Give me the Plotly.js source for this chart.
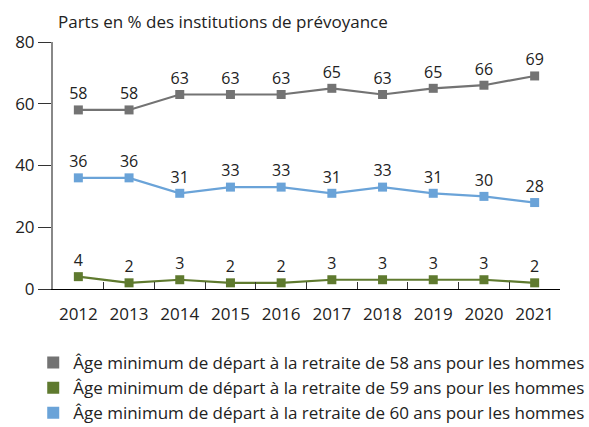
<!DOCTYPE html>
<html>
<head>
<meta charset="utf-8">
<script src="https://cdn.plot.ly/plotly-3.0.1.min.js"></script>
<style>
  html, body { margin: 0; padding: 0; background: #fff; }
  #chart { width: 589px; height: 427px; }
</style>
</head>
<body>
<div id="chart"></div>
<script>
// DATA
const YEARS = ['2012', '2013', '2014', '2015', '2016', '2017', '2018', '2019', '2020', '2021']
const AGE_58 = [58, 58, 63, 63, 63, 65, 63, 65, 66, 69]
const AGE_59 = [4, 2, 3, 2, 2, 3, 3, 3, 3, 2]
const AGE_60 = [36, 36, 31, 33, 33, 31, 33, 31, 30, 28]
const NAMES = [
    'Âge minimum de départ à la retraite de 58 ans pour les hommes',
    'Âge minimum de départ à la retraite de 59 ans pour les hommes',
    'Âge minimum de départ à la retraite de 60 ans pour les hommes'
]
const COLORS = ['#737373', '#5f7a2f', '#6aa3d8']

const FONT = 'Open Sans, Noto Sans, sans-serif'

// the drawn series (no legend entry, the legend only shows squares)
function makeTrace(name, values, color) {
    return {
        type: 'scatter',
        mode: 'lines+markers+text',
        name: name,
        x: YEARS,
        y: values,
        text: values.map(String),
        textposition: 'top center',
        textfont: { family: FONT, size: 16, color: '#222' },
        line: { color: color, width: 2.2 },
        marker: { symbol: 'square', size: 9, color: color },
        cliponaxis: false,
        showlegend: false,
        hoverinfo: 'x+y'
    }
}

// legend-only entries: a plain square
function makeLegend(name, color, i) {
    return {
        type: 'scatter',
        mode: 'markers',
        name: name,
        x: [null],
        y: [null],
        marker: { symbol: 'square', size: 12, color: color },
        legendgroup: 'g' + i,
        showlegend: true
    }
}

let data = [
    makeTrace(NAMES[0], AGE_58, COLORS[0]),
    makeTrace(NAMES[1], AGE_59, COLORS[1]),
    makeTrace(NAMES[2], AGE_60, COLORS[2]),
    makeLegend(NAMES[0], COLORS[0], 0),
    makeLegend(NAMES[1], COLORS[1], 1),
    makeLegend(NAMES[2], COLORS[2], 2)
]

// LAYOUT
let layout = {
    width: 589,
    height: 427,
    margin: { t: 42, r: 29, b: 138, l: 53, autoexpand: false },
    paper_bgcolor: '#fff',
    plot_bgcolor: '#fff',
    font: { family: FONT, size: 17, color: '#222' },
    showlegend: true,
    legend: {
        orientation: 'v',
        x: -0.039, xanchor: 'left',
        yref: 'container',
        y: 0.192, yanchor: 'top',
        font: { family: FONT, size: 17, color: '#222' },
        itemsizing: 'trace',
        tracegroupgap: 4,
        traceorder: 'normal'
    },
    annotations: [{
        text: 'Parts en % des institutions de prévoyance',
        xref: 'paper', yref: 'paper',
        x: 0.005, y: 1.0,
        xanchor: 'left', yanchor: 'bottom',
        yshift: 7,
        showarrow: false,
        font: { family: FONT, size: 17, color: '#222' }
    }],
    xaxis: {
        type: 'category',
        range: [-0.5, 9.5],
        showline: true,
        linecolor: '#000',
        linewidth: 1,
        ticks: 'inside',
        tickson: 'boundaries',
        ticklen: 7,
        tickcolor: '#333',
        showgrid: false,
        zeroline: false,
        ticklabelstandoff: 10,
        tickfont: { family: FONT, size: 17, color: '#222' },
        fixedrange: true
    },
    yaxis: {
        range: [0, 80],
        dtick: 20,
        showline: true,
        linecolor: '#888',
        linewidth: 2,
        ticks: 'outside',
        ticklen: 13,
        tickcolor: '#333',
        showgrid: false,
        zeroline: false,
        tickfont: { family: FONT, size: 17, color: '#222' },
        fixedrange: true
    }
}

// CONFIG
const config = { displayModeBar: false, responsive: false }

Plotly.newPlot('chart', data, layout, config)
</script>
</body>
</html>
